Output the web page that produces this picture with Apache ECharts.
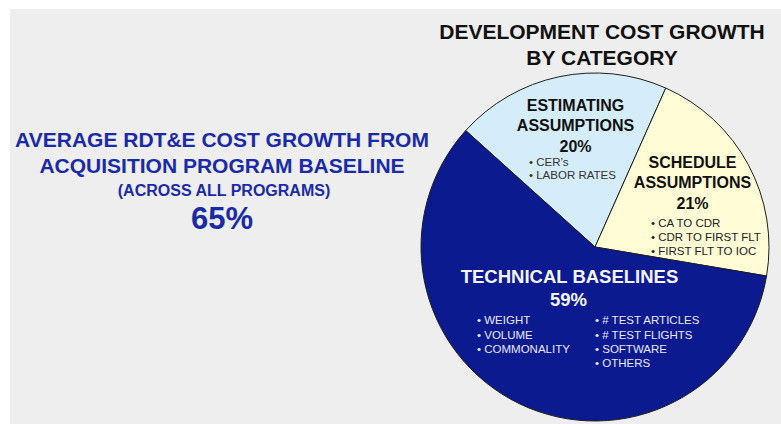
<!DOCTYPE html>
<html>
<head>
<meta charset="utf-8">
<script src="https://cdn.jsdelivr.net/npm/echarts@6/dist/echarts.min.js"></script>
<style>
html,body{margin:0;padding:0;background:#ffffff;}
#chart{width:781px;height:424px;}
</style>
</head>
<body>
<div id="chart"></div>
<script>
// ---- data ----
var categories = ['ESTIMATING ASSUMPTIONS', 'SCHEDULE ASSUMPTIONS', 'TECHNICAL BASELINES'];
var shares = [20, 21, 59];
var titleLines = ['DEVELOPMENT COST GROWTH', 'BY CATEGORY'];
var leftLines = ['AVERAGE RDT&E COST GROWTH FROM', 'ACQUISITION PROGRAM BASELINE'];
var leftSub = '(ACROSS ALL PROGRAMS)';
var leftValue = '65%';
var estimatingHead = ['ESTIMATING', 'ASSUMPTIONS', '20%'];
var estimatingItems = ['CER\u2019s', 'LABOR RATES'];
var scheduleHead = ['SCHEDULE', 'ASSUMPTIONS', '21%'];
var scheduleItems = ['CA TO CDR', 'CDR TO FIRST FLT', 'FIRST FLT TO IOC'];
var technicalHead = ['TECHNICAL BASELINES', '59%'];
var technicalItemsLeft = ['WEIGHT', 'VOLUME', 'COMMONALITY'];
var technicalItemsRight = ['# TEST ARTICLES', '# TEST FLIGHTS', 'SOFTWARE', 'OTHERS'];

// ---- styles ----
var sliceColors = ['#d5edfb', '#fffcd6', '#0b1a8e'];
var FF = '"Liberation Sans", Arial, sans-serif';

function txt(s, x, y, size, weight, color, align) {
  return {
    type: 'text', z: 100,
    style: {
      text: s, x: x, y: y,
      font: weight + ' ' + size + 'px ' + FF,
      fill: color,
      textAlign: align || 'center',
      textVerticalAlign: 'middle'
    }
  };
}

var g = [];
g.push({type: 'rect', z: -10, shape: {x: 10, y: 9, width: 771, height: 415}, style: {fill: '#eeeeee'}});
// title
g.push(txt(titleLines[0], 602, 31.5, 21, 'bold', '#111111'));
g.push(txt(titleLines[1], 602, 57, 21, 'bold', '#111111'));
// left block
g.push(txt(leftLines[0], 222, 139.5, 21, 'bold', '#1a2aa8'));
g.push(txt(leftLines[1], 222, 165.5, 21, 'bold', '#1a2aa8'));
g.push(txt(leftSub, 224, 190, 16, 'bold', '#1a2aa8'));
g.push(txt(leftValue, 222, 218.3, 31, 'bold', '#1a2aa8'));
// estimating
var eY = [105, 125, 146.2];
estimatingHead.forEach(function (s, i) { g.push(txt(s, 575.5, eY[i], 16, 'bold', '#111111')); });
var ebY = [161.7, 174.8];
estimatingItems.forEach(function (s, i) { g.push(txt('\u2022 ' + s, 529, ebY[i], 11.5, 'normal', '#333333', 'left')); });
// schedule
var sY = [162.5, 182.8, 203.5];
scheduleHead.forEach(function (s, i) { g.push(txt(s, 692.5, sY[i], 16, 'bold', '#111111')); });
var sbY = [222.8, 236.7, 250.8];
scheduleItems.forEach(function (s, i) { g.push(txt('\u2022 ' + s, 651, sbY[i], 11.5, 'normal', '#222222', 'left')); });
// technical
g.push(txt(technicalHead[0], 569.5, 276.3, 18.5, 'bold', '#f4f4fa'));
g.push(txt(technicalHead[1], 568.5, 299, 18.5, 'bold', '#f4f4fa'));
var tY = [320, 334.5, 348.5, 362.5];
technicalItemsLeft.forEach(function (s, i) { g.push(txt('\u2022 ' + s, 477, tY[i], 11.5, 'normal', '#e8e8f2', 'left')); });
technicalItemsRight.forEach(function (s, i) { g.push(txt('\u2022 ' + s, 595, tY[i], 11.5, 'normal', '#e8e8f2', 'left')); });

var chart = echarts.init(document.getElementById('chart'), null, {renderer: 'svg'});
chart.setOption({
  backgroundColor: '#ffffff',
  animation: false,
  graphic: {elements: g},
  series: [{
    type: 'pie',
    center: [595, 247],
    radius: 174,
    startAngle: 138,
    clockwise: true,
    silent: true,
    label: {show: false},
    labelLine: {show: false},
    itemStyle: {borderColor: '#1e1e1e', borderWidth: 1},
    data: categories.map(function (c, i) {
      return {name: c, value: shares[i], itemStyle: {color: sliceColors[i]}};
    })
  }]
});
</script>
</body>
</html>
